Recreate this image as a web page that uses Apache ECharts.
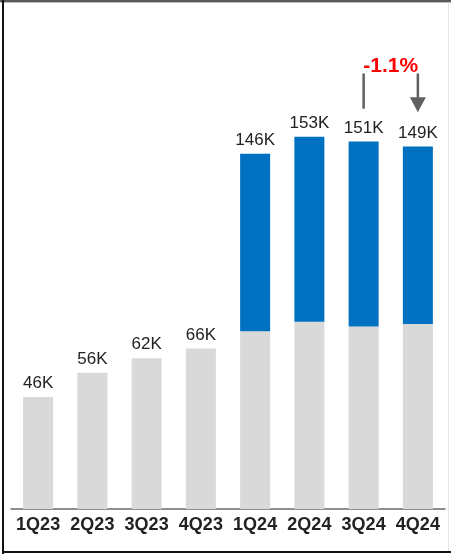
<!DOCTYPE html>
<html>
<head>
<meta charset="utf-8">
<script src="https://cdn.jsdelivr.net/npm/echarts@6/dist/echarts.min.js"></script>
<style>
html,body{margin:0;padding:0;background:#fff;}
#wrap{position:relative;width:451px;height:555px;overflow:hidden;}
#chart{position:absolute;left:0;top:0;width:451px;height:555px;}
.b{position:absolute;}
</style>
</head>
<body>
<div id="wrap">
<div id="chart"></div>
<div class="b" style="left:0;top:0;width:451px;height:2px;background:#5a5a5a;"></div>
<div class="b" style="left:0;top:2px;width:451px;height:1px;background:#bdbdbd;"></div>
<div class="b" style="left:2px;top:0;width:2px;height:554px;background:#111;"></div>
<div class="b" style="left:2px;top:551px;width:449px;height:2px;background:#111;"></div>
<div class="b" style="left:448px;top:3px;width:1px;height:548px;background:#e6e6e6;"></div>
</div>
<script>
var categories = ['1Q23','2Q23','3Q23','4Q23','1Q24','2Q24','3Q24','4Q24'];
var baseValues = [46, 56, 62, 66, 73, 77, 75, 76];
var addValues  = [0, 0, 0, 0, 73, 76, 76, 73];
var totals     = [46, 56, 62, 66, 146, 153, 151, 149];
var totalLabels = ['46K','56K','62K','66K','146K','153K','151K','149K'];
var changeText = '-1.1%';
var changeFrom = '3Q24';
var changeTo = '4Q24';
var annotTop = 179;      // value-axis level of bracket top
var annotBottom = 164.5; // value-axis level of bracket bottom
var arrowTip = 163;
var textLevel = 182;

var chart = echarts.init(document.getElementById('chart'), null, {renderer:'canvas'});
chart.setOption({
  animation: false,
  grid: {left: 11, right: 6, top: 71, bottom: 46, containLabel: false},
  xAxis: {
    type: 'category', data: categories,
    axisLine: {lineStyle: {color: '#6a6a6a', width: 1.5}},
    axisTick: {show: false},
    axisLabel: {fontFamily: 'Liberation Sans, Arial', fontWeight: 'bold', fontSize: 18, color: '#222', margin: 7, interval: 0}
  },
  yAxis: {type: 'value', min: 0, max: 180, show: false, splitLine: {show: false}},
  series: [
    {type: 'bar', stack: 's', data: baseValues, barWidth: 30, itemStyle: {color: '#d9d9d9'}},
    {type: 'bar', stack: 's', data: addValues, barWidth: 30, itemStyle: {color: '#0070c0'}},
    {type: 'bar', data: totals, barWidth: 30, barGap: '-100%', z: 0,
     itemStyle: {color: 'rgba(0,0,0,0)'},
     label: {show: true, position: 'top', distance: 5, fontFamily: 'Liberation Sans, Arial', fontSize: 17, color: '#222',
       formatter: function(p){ return totalLabels[p.dataIndex]; }}}
  ]
});

function px(cat, val){ return chart.convertToPixel({xAxisIndex:0, yAxisIndex:0}, [cat, val]); }
var a1 = px(changeFrom, annotTop), a2 = px(changeFrom, annotBottom);
var b1 = px(changeTo, annotTop), b2 = px(changeTo, arrowTip);
var t = px(changeFrom, textLevel), t2 = px(changeTo, textLevel);
var headH = 15, headW = 16;
chart.setOption({
  graphic: [
    {type: 'line', shape: {x1: a1[0], y1: a1[1], x2: a2[0], y2: a2[1]}, style: {stroke: '#606060', lineWidth: 2.5}},
    {type: 'line', shape: {x1: b1[0], y1: b1[1], x2: b2[0], y2: b2[1] - headH + 1}, style: {stroke: '#606060', lineWidth: 2.5}},
    {type: 'polygon', shape: {points: [[b2[0]-headW/2, b2[1]-headH],[b2[0]+headW/2, b2[1]-headH],[b2[0], b2[1]]]}, style: {fill: '#606060'}},
    {type: 'text', x: (t[0]+t2[0])/2, y: t[1], style: {text: changeText, fill: '#ff0000', font: 'bold 21px "Liberation Sans", Arial', align: 'center', verticalAlign: 'middle'}}
  ]
});
</script>
</body>
</html>
